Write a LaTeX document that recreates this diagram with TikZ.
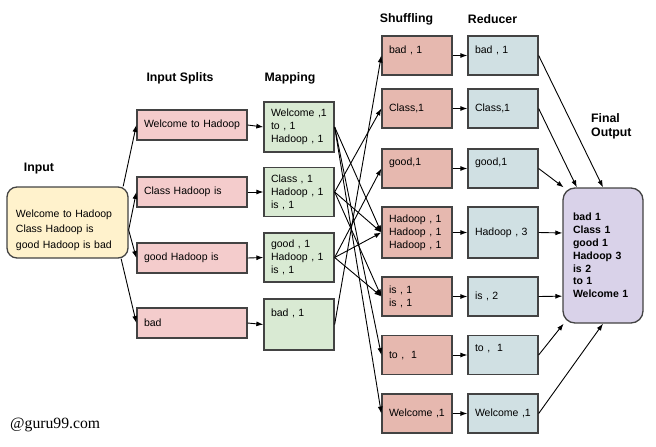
\documentclass[tikz,border=0pt]{standalone}
\usepackage{fontspec}
\setmainfont{Liberation Sans}
\newfontfamily\wmfont{Liberation Serif}
\usetikzlibrary{arrows.meta}

\definecolor{randgrau}{HTML}{434343}
\definecolor{eingabe}{HTML}{FFF2CC}
\definecolor{splitrot}{HTML}{F4CCCC}
\definecolor{mapgruen}{HTML}{D9EAD3}
\definecolor{shufflerot}{HTML}{E6B8AF}
\definecolor{reduceblau}{HTML}{D0E0E3}
\definecolor{ausgabe}{HTML}{D9D2E9}

\tikzset{
  kasten/.style={draw=randgrau, line width=1.3pt, inner xsep=7pt, inner ysep=0pt,
    align=left, font=\fontsize{10.5}{13}\selectfont},
  titel/.style={font=\fontsize{12.3}{13.5}\selectfont\bfseries, inner sep=0pt},
  pfeil/.style={-{Latex[length=7pt,width=5pt]}, line width=0.9pt},
  lift/.style={text height=7.6pt, text depth=#1},
}

\begin{document}
\begin{tikzpicture}[x=1pt, y=-1pt]
  \useasboundingbox (0,0) rectangle (656,447);

  % Ueberschriften
  \node[titel] (tInput) at (39,169) {Input};
  \node[titel] (tSplits) at (180,78) {Input Splits};
  \node[titel] (tMap) at (290,78) {Mapping};
  \node[titel] (tShuffle) at (406.5,19) {Shuffling};
  \node[titel] (tReduce) at (492.5,19) {Reducer};
  \node[titel, align=left, anchor=west] (tFinal) at (591,126.5) {Final\\Output};

  % Eingabe
  \node[kasten, fill=eingabe, rounded corners=10pt, text width=103pt, inner xsep=9pt,
    minimum height=71pt, font=\fontsize{10.5}{15.5}\selectfont] (input) at (67.5,222.5)
    {\rule{0pt}{22.5pt}Welcome~to~Hadoop\\Class Hadoop is\\good Hadoop is bad};

  % Input Splits
  \foreach \txt/\y [count=\i] in {Welcome~to~Hadoop/125, Class~Hadoop~is/192,
    good~Hadoop~is/258, bad/323}
    \node[kasten, fill=splitrot, text width=96pt, minimum height=30pt] (s\i) at (192,\y) {\txt};

  % Mapping
  \node[kasten, fill=mapgruen, text width=56pt, minimum height=50pt] (m1) at (299,127)
    {Welcome~,1\\to , 1\\Hadoop~,~1};
  \node[kasten, fill=mapgruen, text width=56pt, minimum height=49pt] (m2) at (299,192)
    {Class , 1\\Hadoop~,~1\\is , 1};
  \node[kasten, fill=mapgruen, text width=56pt, minimum height=49pt] (m3) at (299,257.5)
    {good , 1\\Hadoop~,~1\\is , 1};
  \node[kasten, fill=mapgruen, text width=56pt, minimum height=51pt, lift=24.6pt] (m4)
    at (299,324.5) {bad , 1};

  % Shuffling
  \node[kasten, fill=shufflerot, text width=56pt, minimum height=39pt, lift=12.6pt] (sh1)
    at (417,55.5) {bad , 1};
  \node[kasten, fill=shufflerot, text width=56pt, minimum height=39pt, lift=1.6pt] (sh2)
    at (417,108.5) {Class,1};
  \node[kasten, fill=shufflerot, text width=56pt, minimum height=39pt, lift=14.6pt] (sh3)
    at (417,168.5) {good,1};
  \node[kasten, fill=shufflerot, text width=56pt, minimum height=51pt] (sh4)
    at (417,232.5) {Hadoop~,~1\\Hadoop~,~1\\Hadoop~,~1};
  \node[kasten, fill=shufflerot, text width=56pt, minimum height=39pt] (sh5)
    at (417,296.5) {is , 1\\is , 1};
  \node[kasten, fill=shufflerot, text width=56pt, minimum height=39pt, lift=1.6pt] (sh6)
    at (417,355) {to ,\ \ 1};
  \node[kasten, fill=shufflerot, text width=56pt, minimum height=39pt, lift=1.6pt] (sh7)
    at (417,413.5) {Welcome~,1};

  % Reducer
  \foreach \txt/\y/\h/\d [count=\i] in {{bad , 1}/55.5/39/12.6, {Class,1}/108.5/39/1.6,
    {good,1}/168.5/39/14.6, {Hadoop~,~3}/232.5/51/1.6, {is , 2}/296.5/39/1.6,
    {to ,\ \ 1}/355/39/15.6, {Welcome~,1}/413.5/39/1.6}
    \node[kasten, fill=reduceblau, text width=56pt, minimum height=\h pt, lift=\d pt]
      (r\i) at (503,\y) {\txt};

  % Ergebnis
  \node[kasten, fill=ausgabe, rounded corners=12pt, text width=60pt, inner xsep=10pt,
    minimum height=135pt, font=\fontsize{10.5}{12.8}\selectfont\bfseries] (final)
    at (603,255.5) {bad 1\\Class 1\\good 1\\Hadoop~3\\is 2\\to 1\\Welcome~1};

  % Pfeile
  \draw[pfeil] (input.33) -- (s1.west);
  \draw[pfeil] (input.-7) -- (s2.west);
  \draw[pfeil] (input.-7) -- (s3.west);
  \draw[pfeil] (input.-34) -- (s4.west);
  \foreach \i in {1,...,4}
    \draw[pfeil] (s\i.east) -- (m\i.west);
  \foreach \a/\b in {1/7, 1/6, 1/4, 2/2, 2/4, 2/5, 3/3, 3/4, 3/5, 4/1}
    \draw[pfeil] (m\a.east) -- (sh\b.west);
  \foreach \i in {1,...,7}
    \draw[pfeil] (sh\i.east) -- (r\i.west);
  \foreach \i/\w in {1/north, 2/111, 3/120, 4/151, 5/225, 6/240, 7/south}
    \draw[pfeil] (r\i.east) -- (final.\w);

  \node[font=\wmfont\fontsize{15.7}{18}\selectfont, anchor=west, inner sep=0pt] (wm)
    at (10,425) {@guru99.com};
\end{tikzpicture}
\end{document}
